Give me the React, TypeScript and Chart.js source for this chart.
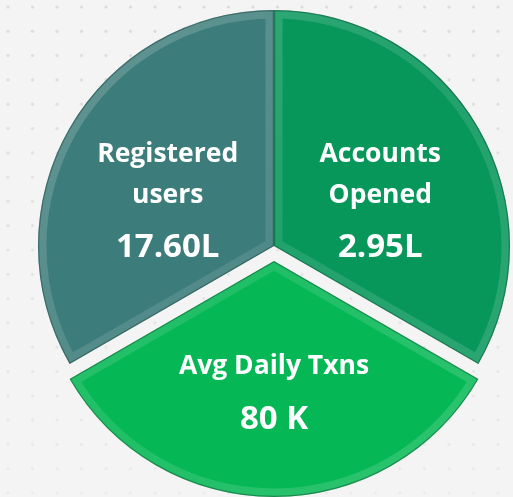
import React, { useEffect, useRef } from "react";
import { Chart, registerables } from "chart.js";

Chart.register(...registerables);

// ---- data ----
const categories = ["Accounts Opened", "Avg Daily Txns", "Registered users"];
const labelLines = [["Accounts", "Opened"], ["Avg Daily Txns"], ["Registered", "users"]];
const valueLabels = ["2.95L", "80 K", "17.60L"];
const sliceShares = [1, 1, 1];
const sliceColors = ["#08975B", "#06B855", "#3C7C7A"];

const FONT = "'Open Sans', Lato, sans-serif";

const backgroundPlugin = {
  id: "dotBackground",
  beforeDraw(chart: any) {
    const { ctx, width, height } = chart;
    ctx.save();
    ctx.fillStyle = "#F4F4F4";
    ctx.fillRect(0, 0, width, height);
    for (let y = 7; y < height; y += 24.3) {
      for (let x = 8; x < width; x += 24.5) {
        const a = Math.max(0, 0.55 - (y / height) * 0.35);
        ctx.fillStyle = `rgba(200,200,200,${a})`;
        ctx.beginPath();
        ctx.arc(x, y, 1.6, 0, Math.PI * 2);
        ctx.fill();
      }
    }
    ctx.restore();
  },
};

const explodePlugin = {
  id: "explode",
  afterDatasetsUpdate(chart: any, _args: any, opts: any) {
    const meta = chart.getDatasetMeta(0);
    meta.data.forEach((el: any, i: number) => {
      const d = (opts.shift && opts.shift[i]) || 0;
      const mid = (el.startAngle + el.endAngle) / 2;
      el.x += Math.cos(mid) * d;
      el.y += Math.sin(mid) * d;
    });
  },
};

function sectorPath(ctx: CanvasRenderingContext2D, el: any) {
  ctx.beginPath();
  ctx.moveTo(el.x, el.y);
  ctx.arc(el.x, el.y, el.outerRadius, el.startAngle, el.endAngle);
  ctx.closePath();
}

const bevelLabelPlugin = {
  id: "bevelLabels",
  afterDatasetsDraw(chart: any) {
    const { ctx } = chart;
    const meta = chart.getDatasetMeta(0);
    meta.data.forEach((el: any, i: number) => {
      // bevel band
      ctx.save();
      sectorPath(ctx, el);
      ctx.clip();
      sectorPath(ctx, el);
      ctx.lineJoin = "miter";
      ctx.lineWidth = 17;
      const g = ctx.createLinearGradient(el.x - el.outerRadius, el.y - el.outerRadius, el.x + el.outerRadius, el.y + el.outerRadius);
      g.addColorStop(0, "rgba(255,255,255,0.2)");
      g.addColorStop(0.5, "rgba(255,255,255,0.1)");
      g.addColorStop(1, "rgba(255,255,255,0.16)");
      ctx.strokeStyle = g;
      ctx.stroke();
      sectorPath(ctx, el);
      ctx.lineWidth = 2.5;
      ctx.strokeStyle = "rgba(0,40,30,0.35)";
      ctx.stroke();
      ctx.restore();

      // labels
      const mid = (el.startAngle + el.endAngle) / 2;
      const ax = el.x + Math.cos(mid) * el.outerRadius * 0.52;
      const ay = el.y + Math.sin(mid) * el.outerRadius * 0.5 + 14;
      const lines = labelLines[i];
      const ys: number[] = lines.map((_, k) => k * 41);
      const valueY = (lines.length - 1) * 41 + 53;
      const c = valueY / 2;
      ctx.save();
      ctx.fillStyle = "#FFFFFF";
      ctx.textAlign = "center";
      ctx.textBaseline = "middle";
      ctx.font = `bold 26.5px ${FONT}`;
      lines.forEach((t, k) => ctx.fillText(t, ax, ay + ys[k] - c));
      ctx.font = `bold 33px ${FONT}`;
      ctx.fillText(valueLabels[i], ax, ay + valueY - c);
      ctx.restore();
    });
  },
};

export default function App() {
  const ref = useRef<HTMLCanvasElement | null>(null);
  useEffect(() => {
    if (!ref.current) return;
    const chart = new Chart(ref.current, {
      type: "pie",
      data: {
        labels: categories,
        datasets: [
          {
            data: sliceShares,
            backgroundColor: sliceColors,
            borderWidth: 0,
            radius: 236,
          } as any,
        ],
      },
      options: {
        responsive: false,
        animation: false,
        layout: { padding: { left: 35, right: 0, top: 0, bottom: 5 } },
        plugins: {
          legend: { display: false },
          tooltip: { enabled: false },
          explode: { shift: [0, 15, 0] },
        } as any,
      },
      plugins: [backgroundPlugin, explodePlugin, bevelLabelPlugin],
    });
    return () => chart.destroy();
  }, []);
  return (
    <div style={{ position: "fixed", left: 0, top: 0, width: 513, height: 497 }}>
      <canvas ref={ref} width={513} height={497} style={{ display: "block" }} />
    </div>
  );
}
